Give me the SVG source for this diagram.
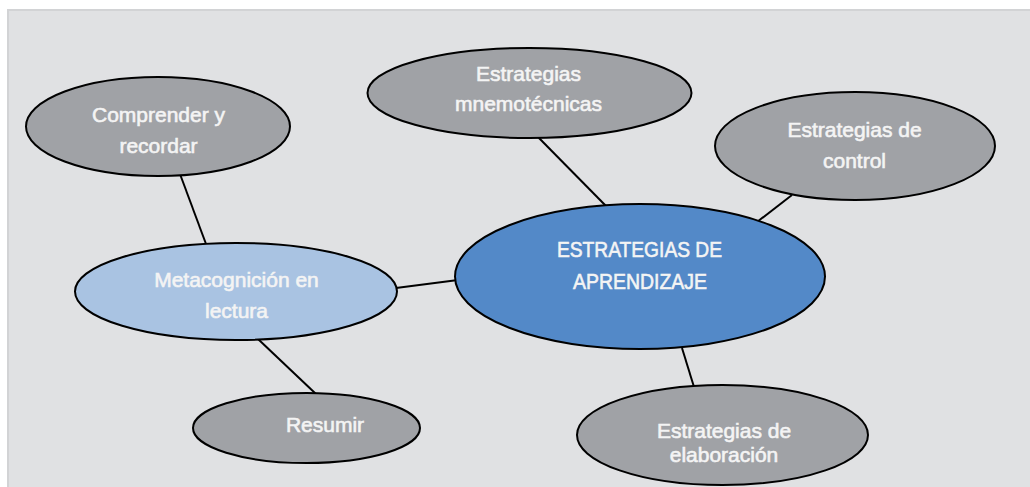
<svg xmlns="http://www.w3.org/2000/svg" width="1030" height="487" viewBox="0 0 1030 487">
<style>
.bg{fill:#e0e1e3;stroke:#d2d3d5;stroke-width:2}
.n{stroke:#000;stroke-width:2}
.g{fill:#a0a2a6}
.c{fill:#5389c8}
.l{fill:#a9c3e2}
.e{stroke:#000;stroke-width:2;fill:none}
text{font-family:"Liberation Sans",Arial,sans-serif;font-size:21px;fill:#f4f4f4;stroke:#f4f4f4;stroke-width:0.6;text-anchor:middle}
</style>
<rect class="bg" x="8" y="10" width="1030" height="490"/>
<g id="connectors">
<line class="e" x1="180" y1="174" x2="206" y2="244"/>
<line class="e" x1="396" y1="288" x2="458" y2="280"/>
<line class="e" x1="258" y1="339" x2="316" y2="394"/>
<line class="e" x1="538" y1="137" x2="606" y2="206"/>
<line class="e" x1="792" y1="195" x2="757" y2="222"/>
<line class="e" x1="682" y1="348" x2="694" y2="387"/>
</g>
<g id="comprender">
<ellipse class="n g" cx="158" cy="126.5" rx="132" ry="49.5"/>
<text x="158.5" y="122">Comprender y</text>
<text x="158.5" y="153">recordar</text>
</g>
<g id="mnemotecnicas">
<ellipse class="n g" cx="529.5" cy="93" rx="162" ry="45"/>
<text x="528.5" y="81">Estrategias</text>
<text x="528.5" y="111">mnemotécnicas</text>
</g>
<g id="control">
<ellipse class="n g" cx="855" cy="146" rx="140" ry="54"/>
<text x="854.5" y="137">Estrategias de</text>
<text x="854.5" y="168">control</text>
</g>
<g id="central">
<ellipse class="n c" cx="640" cy="276.5" rx="185" ry="72.5"/>
<text x="639.5" y="257" textLength="165" lengthAdjust="spacingAndGlyphs" style="font-size:22px">ESTRATEGIAS DE</text>
<text x="640" y="289" textLength="134" lengthAdjust="spacingAndGlyphs" style="font-size:22px">APRENDIZAJE</text>
</g>
<g id="metacognicion">
<ellipse class="n l" cx="236" cy="291.5" rx="161" ry="48.5"/>
<text x="236.5" y="287">Metacognición en</text>
<text x="236.5" y="318">lectura</text>
</g>
<g id="resumir">
<ellipse class="n g" cx="306.5" cy="428" rx="113.5" ry="35"/>
<text x="325" y="432">Resumir</text>
</g>
<g id="elaboracion">
<ellipse class="n g" cx="722.5" cy="435" rx="145.5" ry="50"/>
<text x="724" y="438">Estrategias de</text>
<text x="724" y="462">elaboración</text>
</g>
</svg>
